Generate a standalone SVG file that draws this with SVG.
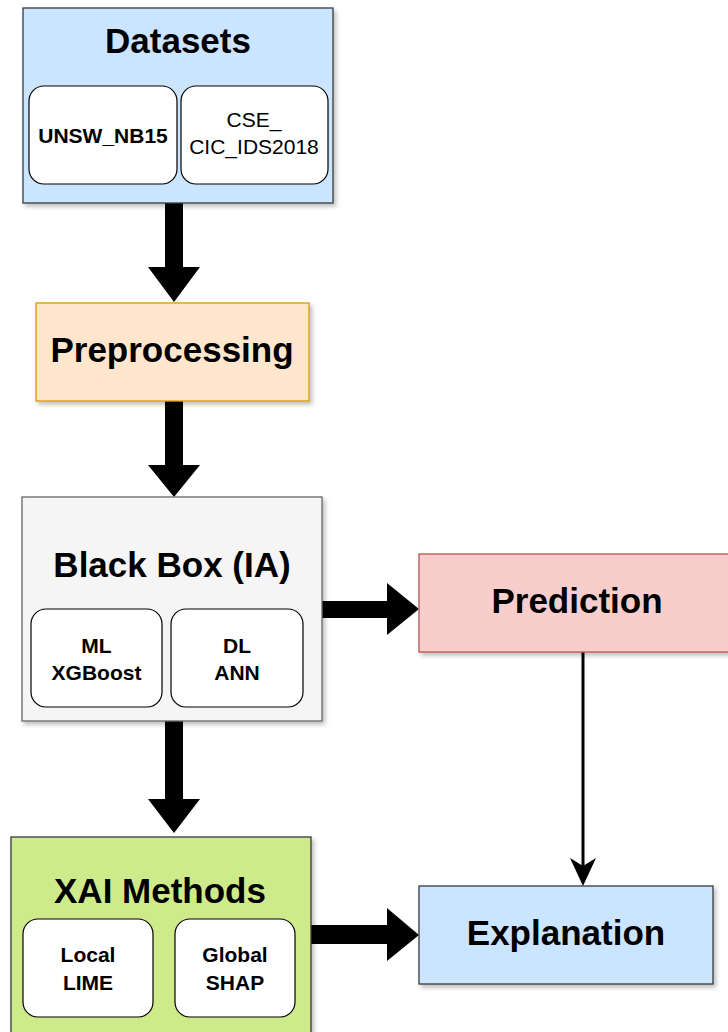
<svg xmlns="http://www.w3.org/2000/svg" width="728" height="1032" viewBox="0 0 728 1032">
  <style>
    .title { font-family: "Liberation Sans", Arial, sans-serif; font-weight: bold; font-size: 35px; fill: #000; text-anchor: middle; }
    .sub { font-family: "Liberation Sans", Arial, sans-serif; font-weight: bold; font-size: 21px; fill: #000; text-anchor: middle; }
    .subr { font-family: "Liberation Sans", Arial, sans-serif; font-size: 21px; fill: #000; text-anchor: middle; }
    .inner { fill: #ffffff; stroke: #000000; stroke-width: 1.2; }
    .box { stroke-width: 1.3; filter: url(#shadow); }
    .fat { fill: #000000; }
  </style>
  <defs>
    <filter id="shadow" x="-10%" y="-10%" width="130%" height="130%">
      <feDropShadow dx="2.5" dy="3" stdDeviation="2" flood-color="#000" flood-opacity="0.25"/>
    </filter>
  </defs>
  <rect width="728" height="1032" fill="#ffffff"/>

  <!-- connectors -->
  <g id="connectors">
    <!-- Datasets -> Preprocessing -->
    <polygon class="fat" points="165,203 183,203 183,267 200,267 174,302 148,267 165,267"/>
    <!-- Preprocessing -> Black Box -->
    <polygon class="fat" points="165,401 183,401 183,465 200,465 174,497 148,465 165,465"/>
    <!-- Black Box -> XAI Methods -->
    <polygon class="fat" points="165,721 183,721 183,799 200,799 174,833 148,799 165,799"/>
    <!-- Black Box -> Prediction -->
    <polygon class="fat" points="322,601 387,601 387,583 419,609 387,635 387,618 322,618"/>
    <!-- XAI Methods -> Explanation -->
    <polygon class="fat" points="311,925 387,925 387,908 419,935 387,961 387,944 311,944"/>
    <!-- Prediction -> Explanation -->
    <line x1="583" y1="652" x2="583" y2="868" stroke="#000" stroke-width="3"/>
    <polygon class="fat" points="583,886 570,858 583,866 596,858"/>
  </g>

  <!-- Datasets -->
  <g id="datasets">
    <rect class="box" x="23" y="8" width="310" height="195" fill="#cce5ff" stroke="#36393d"/>
    <text class="title" x="178" y="53">Datasets</text>
    <rect class="inner" x="29" y="86" width="148" height="98" rx="15"/>
    <text class="sub" x="103" y="143">UNSW_NB15</text>
    <rect class="inner" x="181" y="86" width="147" height="98" rx="15"/>
    <text class="subr" x="254" y="127">CSE_</text>
    <text class="subr" x="254" y="154">CIC_IDS2018</text>
  </g>

  <!-- Preprocessing -->
  <g id="preprocessing">
    <rect class="box" x="36" y="303" width="273" height="98" fill="#ffe6cc" stroke="#d79b00"/>
    <text class="title" x="172" y="362">Preprocessing</text>
  </g>

  <!-- Black Box -->
  <g id="blackbox">
    <rect class="box" x="22" y="497" width="300" height="224" fill="#f5f5f5" stroke="#666666"/>
    <text class="title" x="172" y="577">Black Box (IA)</text>
    <rect class="inner" x="31" y="609" width="131" height="98" rx="15"/>
    <text class="sub" x="96.5" y="653">ML</text>
    <text class="sub" x="96.5" y="680">XGBoost</text>
    <rect class="inner" x="171" y="609" width="132" height="98" rx="15"/>
    <text class="sub" x="237" y="653">DL</text>
    <text class="sub" x="237" y="680">ANN</text>
  </g>

  <!-- Prediction -->
  <g id="prediction">
    <rect class="box" x="419" y="554" width="316" height="98" fill="#f8cecc" stroke="#b85450"/>
    <text class="title" x="577" y="613">Prediction</text>
  </g>

  <!-- XAI Methods -->
  <g id="xai">
    <rect class="box" x="11" y="837" width="300" height="210" fill="#cdeb8b" stroke="#36393d"/>
    <text class="title" x="160" y="903">XAI Methods</text>
    <rect class="inner" x="23" y="919" width="130" height="98" rx="15"/>
    <text class="sub" x="88" y="962">Local</text>
    <text class="sub" x="88" y="990">LIME</text>
    <rect class="inner" x="175" y="919" width="120" height="98" rx="15"/>
    <text class="sub" x="235" y="962">Global</text>
    <text class="sub" x="235" y="990">SHAP</text>
  </g>

  <!-- Explanation -->
  <g id="explanation">
    <rect class="box" x="419" y="886" width="294" height="98" fill="#cce5ff" stroke="#36393d"/>
    <text class="title" x="566" y="945">Explanation</text>
  </g>
</svg>
